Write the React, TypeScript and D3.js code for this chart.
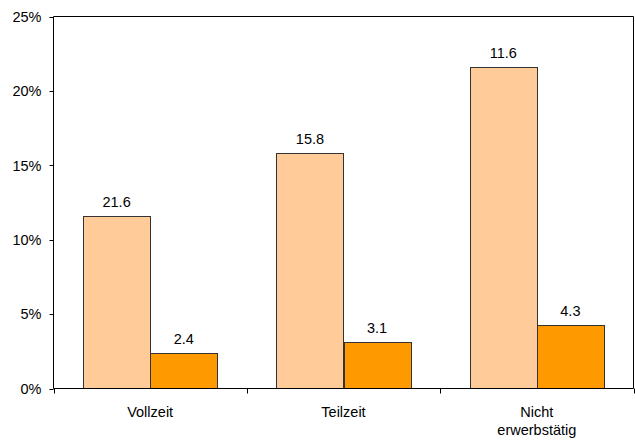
import React from "react";
import * as d3 from "d3";

const categories = ["Vollzeit", "Teilzeit", "Nicht erwerbstätig"];
const categoryLines = [["Vollzeit"], ["Teilzeit"], ["Nicht", "erwerbstätig"]];
const seriesNames = ["A", "B"];
const seriesA = [11.6, 15.8, 21.6];
const seriesB = [2.4, 3.1, 4.3];
const labelsA = ["21.6", "15.8", "11.6"];
const labelsB = ["2.4", "3.1", "4.3"];
const yTicks = [0, 5, 10, 15, 20, 25];
const colors = ["#FFCC99", "#FF9900"];

const W = 635;
const H = 440;
const left = 53.5;
const right = 633.5;
const top = 16.5;
const bottom = 388.5;
const font = "Arial, 'Liberation Sans', sans-serif";
const fs = 14.5;

export default function App() {
  const x = d3.scaleBand<string>().domain(categories).range([left, right]).padding(0);
  const xi = d3
    .scaleBand<string>()
    .domain(seriesNames)
    .range([0, x.bandwidth()])
    .paddingInner(0)
    .paddingOuter(0.44);
  const y = d3.scaleLinear().domain([0, 25]).range([bottom, top]);
  const series = [seriesA, seriesB];
  const labels = [labelsA, labelsB];

  return (
    <svg
      width={W}
      height={H}
      style={{ position: "absolute", left: 0, top: 0, background: "#fff" }}
      fontFamily={font}
    >
      {categories.map((c, ci) =>
        seriesNames.map((s, si) => {
          const v = series[si][ci];
          const bx = (x(c) as number) + (xi(s) as number);
          const by = y(v);
          return (
            <g key={c + s}>
              <rect
                x={Math.round(bx) + 0.5}
                y={Math.round(by) + 0.5}
                width={Math.round(xi.bandwidth())}
                height={bottom - Math.round(by) - 0.5}
                fill={colors[si]}
                stroke="#333"
                strokeWidth={1}
              />
              <text
                x={bx + xi.bandwidth() / 2}
                y={by - 9}
                textAnchor="middle"
                fontSize={fs}
                fill="#000"
              >
                {labels[si][ci]}
              </text>
            </g>
          );
        })
      )}
      <line x1={left} x2={right} y1={top} y2={top} stroke="#000" />
      <line x1={right} x2={right} y1={top} y2={bottom} stroke="#000" />
      <line x1={left} x2={left} y1={top} y2={bottom} stroke="#000" />
      <line x1={left} x2={right} y1={bottom} y2={bottom} stroke="#000" />
      {yTicks.map((t) => (
        <g key={t}>
          <line x1={left - 4} x2={left} y1={Math.round(y(t)) + 0.5} y2={Math.round(y(t)) + 0.5} stroke="#000" />
          <text x={41.5} y={y(t)} dy="0.36em" textAnchor="end" fontSize={fs} fill="#000">
            {t}%
          </text>
        </g>
      ))}
      {[...categories.map((c) => x(c) as number), right].map((px, i) => (
        <line key={i} x1={Math.round(px) + 0.5} x2={Math.round(px) + 0.5} y1={bottom} y2={bottom + 5} stroke="#000" />
      ))}
      {categories.map((c, ci) => (
        <text
          key={c}
          x={(x(c) as number) + x.bandwidth() / 2}
          y={417}
          textAnchor="middle"
          fontSize={fs}
          fill="#000"
        >
          {categoryLines[ci].map((ln, li) => (
            <tspan key={li} x={(x(c) as number) + x.bandwidth() / 2} dy={li === 0 ? 0 : 17.5}>
              {ln}
            </tspan>
          ))}
        </text>
      ))}
    </svg>
  );
}
